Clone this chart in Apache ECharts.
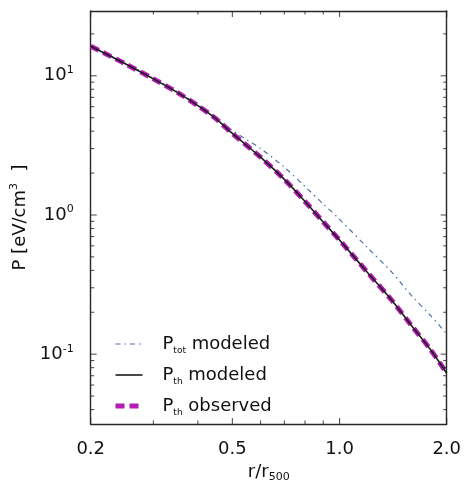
<!DOCTYPE html>
<html>
<head>
<meta charset="utf-8">
<script src="https://cdn.jsdelivr.net/npm/echarts@6/dist/echarts.min.js"></script>
<style>
  html, body { margin: 0; padding: 0; background: #ffffff; }
  #chart { width: 465px; height: 488px; }
</style>
</head>
<body>
<div id="chart"></div>
<script>
// Radius in units of r500
const radius = [0.2, 0.25, 0.3, 0.35, 0.4, 0.45, 0.5, 0.6, 0.7, 0.8, 0.9, 1.0, 1.2, 1.4, 1.6, 1.8, 2.0];
// Pressure profiles in eV/cm^3
const pTotModeled = [16.4, 12.3, 9.6, 7.7, 6.2, 5.05, 4.05, 3.0, 2.2, 1.6, 1.2, 0.93, 0.58, 0.39, 0.26, 0.19, 0.14];
const pThModeled  = [16.3, 12.2, 9.5, 7.6, 6.1, 4.9, 3.85, 2.6, 1.8, 1.25, 0.89, 0.66, 0.385, 0.245, 0.158, 0.108, 0.073];
const pThObserved = [16.3, 12.2, 9.5, 7.6, 6.1, 4.9, 3.85, 2.6, 1.8, 1.25, 0.89, 0.66, 0.385, 0.245, 0.158, 0.108, 0.073];

// Tick positions
const xMajorTicks = [0.2, 0.5, 1.0, 2.0];
const xMinorTicks = [0.3, 0.4, 0.6, 0.7, 0.8, 0.9];
const yMajorTicks = [0.1, 1, 10];
const yMinorTicks = [0.04, 0.05, 0.06, 0.07, 0.08, 0.09,
                     0.2, 0.3, 0.4, 0.5, 0.6, 0.7, 0.8, 0.9,
                     2, 3, 4, 5, 6, 7, 8, 9, 20];

const xRange = [0.2, 2.0];
const yRange = [0.0315, 29.2];

const FONT = 'DejaVu Sans';
const INK = '#111111';
const FRAME = '#262626';
const MAJOR_LEN = 6;
const MINOR_LEN = 3.5;

function pairs(xs, ys) { return xs.map((x, i) => [x, ys[i]]); }

function xAxisDef(position, withLabels) {
  return {
    type: 'log', logBase: 10, position: position,
    min: xRange[0], max: xRange[1],
    axisLine: { show: true, onZero: false, lineStyle: { color: FRAME, width: 1.4 } },
    axisTick: { show: false },
    axisLabel: withLabels ? {
      show: true, customValues: xMajorTicks, margin: 16,
      fontFamily: FONT, fontSize: 18, color: INK,
      formatter: v => Number(v).toFixed(1)
    } : { show: false },
    splitLine: { show: false }, minorTick: { show: false }, minorSplitLine: { show: false }
  };
}

function yAxisDef(position, withLabels) {
  return {
    type: 'log', logBase: 10, position: position,
    min: yRange[0], max: yRange[1],
    axisLine: { show: true, onZero: false, lineStyle: { color: FRAME, width: 1.4 } },
    axisTick: { show: false },
    axisLabel: withLabels ? {
      show: true, customValues: yMajorTicks, margin: 17,
      formatter: v => '{b|10}{s|' + Math.round(Math.log10(v)) + '}',
      rich: {
        b: { fontFamily: FONT, fontSize: 18, lineHeight: 22, color: INK },
        s: { fontFamily: FONT, fontSize: 11, lineHeight: 12, color: INK, verticalAlign: 'top' }
      }
    } : { show: false },
    splitLine: { show: false }, minorTick: { show: false }, minorSplitLine: { show: false }
  };
}

const xAxes = [xAxisDef('bottom', true), xAxisDef('top', false)];
xAxes[0].name = '{a|r/r}{s|500}';
xAxes[0].nameLocation = 'middle';
xAxes[0].nameGap = 37;
xAxes[0].nameTextStyle = {
  rich: {
    a: { fontFamily: FONT, fontSize: 18, lineHeight: 22, color: INK },
    s: { fontFamily: FONT, fontSize: 11, lineHeight: 12, color: INK, verticalAlign: 'bottom' }
  }
};

const yAxes = [yAxisDef('left', true), yAxisDef('right', false)];
yAxes[0].name = '{a|P [eV/cm}{s|3}{a|  ]}';
yAxes[0].nameLocation = 'middle';
yAxes[0].nameGap = 51;
yAxes[0].nameTextStyle = {
  rich: {
    a: { fontFamily: FONT, fontSize: 18, lineHeight: 22, color: INK },
    s: { fontFamily: FONT, fontSize: 11, lineHeight: 12, color: INK, verticalAlign: 'top' }
  }
};

// Inward tick marks on all four sides of the frame, placed through the axes
function tickItems(values, len, side) {
  return values.map(v => {
    if (side === 'bottom') return { value: [v, yRange[0]], symbolSize: [1.1, len], symbolOffset: [0, -len / 2] };
    if (side === 'top')    return { value: [v, yRange[1]], symbolSize: [1.1, len], symbolOffset: [0, len / 2] };
    if (side === 'left')   return { value: [xRange[0], v], symbolSize: [len, 1.1], symbolOffset: [len / 2, 0] };
    return { value: [xRange[1], v], symbolSize: [len, 1.1], symbolOffset: [-len / 2, 0] };
  });
}
function tickSeries(side, isX) {
  const major = isX ? xMajorTicks : yMajorTicks;
  const minor = isX ? xMinorTicks : yMinorTicks;
  return {
    type: 'scatter', xAxisIndex: 0, yAxisIndex: 0, silent: true, clip: false, z: 6,
    symbol: 'rect', itemStyle: { color: FRAME },
    data: tickItems(major, MAJOR_LEN, side).concat(tickItems(minor, MINOR_LEN, side))
  };
}

const legendLabels = {
  'P_tot modeled': '{p|P}{s|tot}{a| modeled}',
  'P_th modeled': '{p|P}{s|th}{a| modeled}',
  'P_th observed': '{p|P}{s|th}{a| observed}'
};

const chart = echarts.init(document.getElementById('chart'), null, { renderer: 'canvas' });
chart.setOption({
  animation: false,
  backgroundColor: '#ffffff',
  grid: { left: 90.7, right: 18.3, top: 11, bottom: 54, containLabel: false },
  xAxis: xAxes,
  yAxis: yAxes,
  legend: {
    left: 113, top: 335, orient: 'vertical', padding: 0,
    itemWidth: 27, itemHeight: 2, itemGap: 11,
    selectedMode: false,
    itemStyle: { opacity: 0 },
    lineStyle: { width: 'inherit' },
    data: ['P_tot modeled', 'P_th modeled', 'P_th observed'],
    formatter: name => legendLabels[name],
    textStyle: {
      rich: {
        p: { fontFamily: FONT, fontSize: 18, lineHeight: 22, color: INK, padding: [0, 0, 0, 15] },
        a: { fontFamily: FONT, fontSize: 18, lineHeight: 22, color: INK },
        s: { fontFamily: FONT, fontSize: 9, lineHeight: 10, color: INK, verticalAlign: 'bottom' }
      }
    }
  },
  series: [
    {
      name: 'P_tot modeled', type: 'line', xAxisIndex: 0, yAxisIndex: 0,
      data: pairs(radius, pTotModeled), symbol: 'none', smooth: 0.3, z: 2,
      lineStyle: { color: '#4c6fa8', width: 1.2, type: [5, 4, 1.5, 4] },
      itemStyle: { color: '#4c6fa8' }
    },
    {
      name: 'P_th modeled', type: 'line', xAxisIndex: 0, yAxisIndex: 0,
      data: pairs(radius, pThModeled), symbol: 'none', smooth: 0.3, z: 4,
      lineStyle: { color: '#1a1a1a', width: 1.6, type: 'solid' },
      itemStyle: { color: '#1a1a1a' }
    },
    {
      name: 'P_th observed', type: 'line', xAxisIndex: 0, yAxisIndex: 0,
      data: pairs(radius, pThObserved), symbol: 'none', smooth: 0.3, z: 3,
      lineStyle: { color: '#b41cb4', width: 5, type: [9, 5] },
      itemStyle: { color: '#b41cb4' }
    },
    tickSeries('bottom', true),
    tickSeries('top', true),
    tickSeries('left', false),
    tickSeries('right', false)
  ]
});
</script>
</body>
</html>
